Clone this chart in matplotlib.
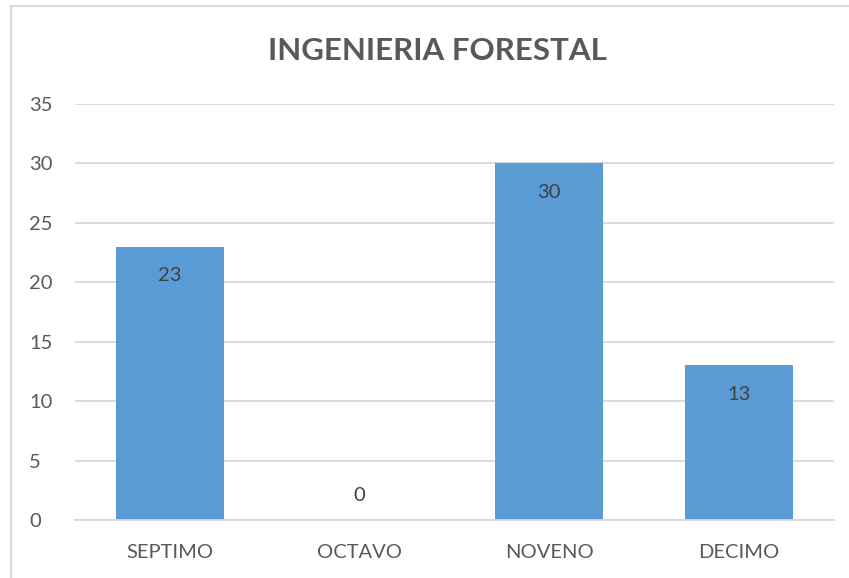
import matplotlib.pyplot as plt
from matplotlib.patches import Rectangle

# Datos
semestres = ['SEPTIMO', 'OCTAVO', 'NOVENO', 'DECIMO']
estudiantes = [23, 0, 30, 13]

plt.rcParams['font.family'] = ['Lato', 'DejaVu Sans']

W, H = 849, 578
fig = plt.figure(figsize=(W / 100, H / 100), dpi=100)
ax = fig.add_axes([75 / W, 1 - 520 / H, (834 - 75) / W, (520 - 104) / H])

# Marco del grafico (sale de la imagen por la derecha y abajo)
fig.patches.append(Rectangle((11 / W, -0.1), 1.2, 1 - 6 / H + 0.1,
                             transform=fig.transFigure, fill=False,
                             edgecolor='#d9d9d9', linewidth=1.5))

x = range(len(semestres))
barras = ax.bar(x, estudiantes, width=0.57, color='#5B9BD5', zorder=2)

for xi, v in zip(x, estudiantes):
    if v > 0:
        ax.text(xi, v - 2.45, str(v), ha='center', va='center',
                fontsize=14.5, color='#404040', zorder=3)
    else:
        ax.text(xi, v + 2.05, str(v), ha='center', va='center',
                fontsize=14.5, color='#404040', zorder=3)

ax.set_xlim(-0.5, len(semestres) - 0.5)
ax.set_ylim(0, 35)
ax.set_yticks(range(0, 36, 5))
ax.set_xticks(list(x))
ax.set_xticklabels(semestres)
ax.tick_params(length=0, labelsize=14.5, colors='#595959', pad=17.5)
ax.tick_params(axis='y', pad=33)
for lab in ax.get_yticklabels():
    lab.set_horizontalalignment('left')
ax.yaxis.grid(True, color='#d9d9d9', linewidth=1.3, zorder=0)
for s in ['top', 'right', 'left']:
    ax.spines[s].set_visible(False)
ax.spines['bottom'].set_color('#d9d9d9')
ax.spines['bottom'].set_linewidth(1.3)

fig.text(437 / W, 1 - 51 / H, 'INGENIERIA FORESTAL', ha='center', va='center',
         fontsize=22.5, fontweight='bold', color='#595959')

fig.savefig('out.png', dpi=100)
